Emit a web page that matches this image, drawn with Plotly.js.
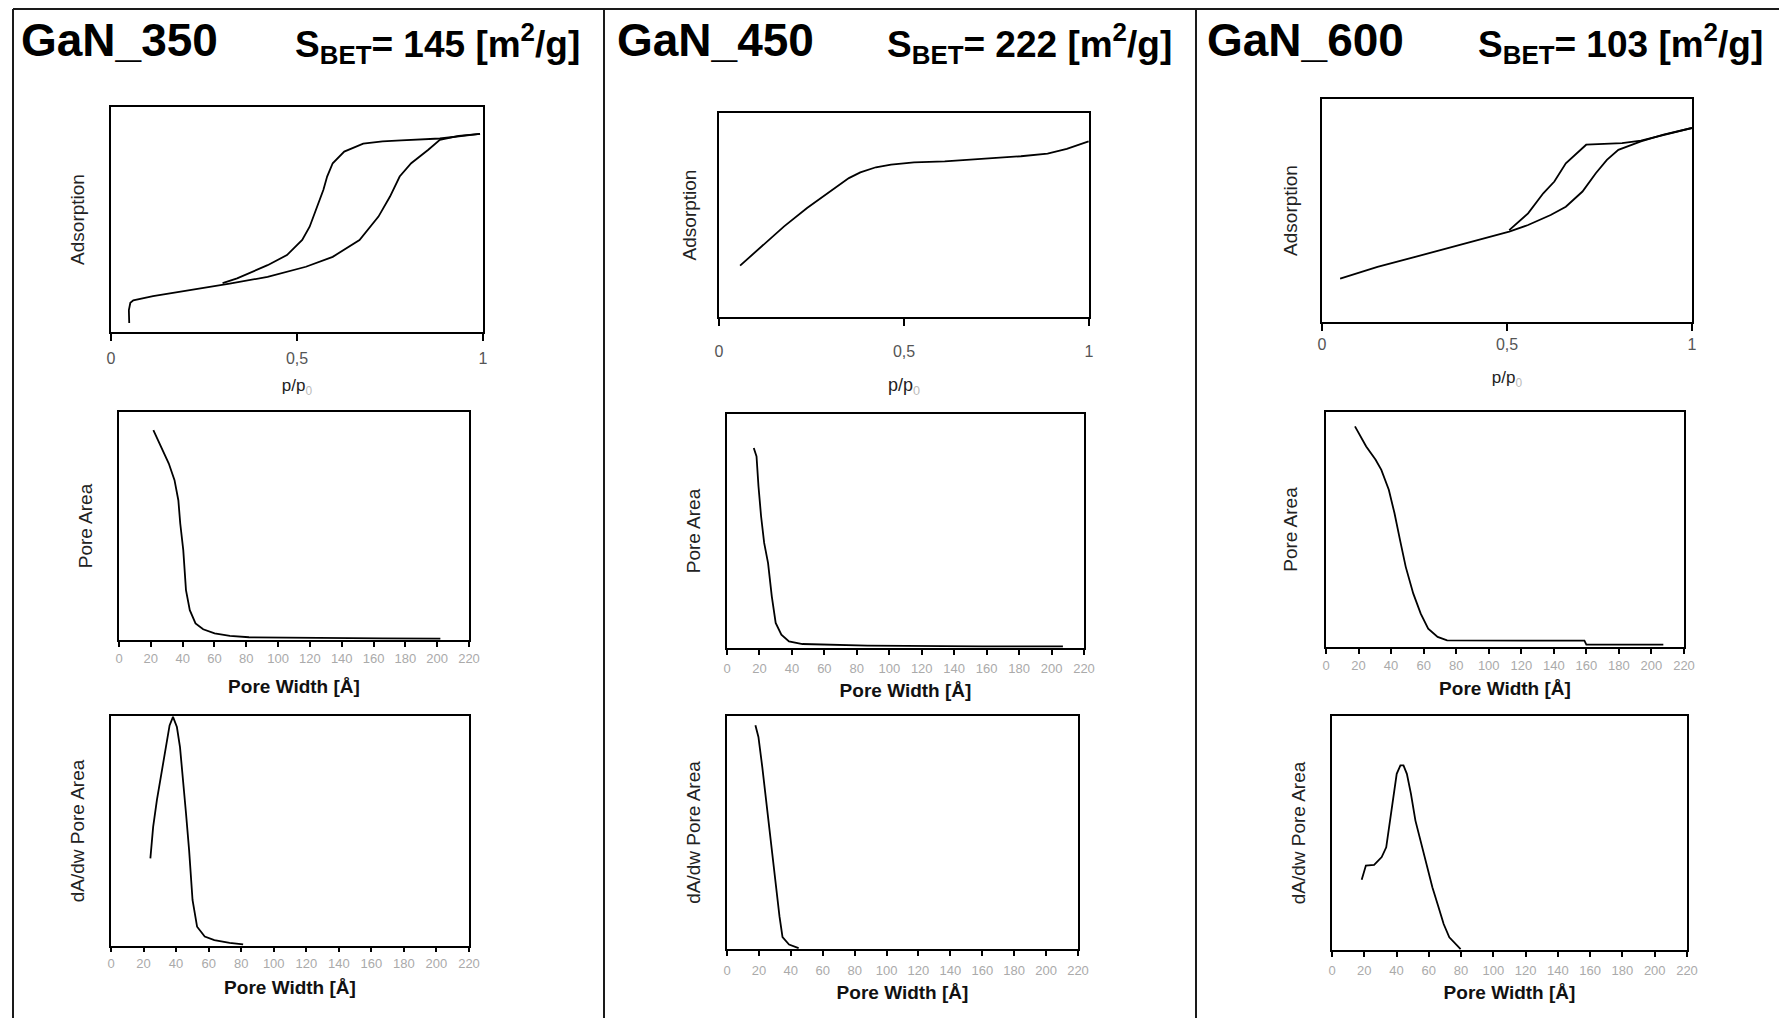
<!DOCTYPE html>
<html>
<head>
<meta charset="utf-8">
<script src="https://cdn.plot.ly/plotly-3.0.1.min.js"></script>
<style>
  html, body { margin: 0; padding: 0; background: #fff; }
  #chart { width: 1779px; height: 1018px; }
</style>
</head>
<body>
<div id="chart"></div>
<script>
// ---- Samples ----
const samples = ['GaN_350', 'GaN_450', 'GaN_600'];
const sBET = [145, 222, 103];

// ---- N2 isotherms: relative pressure p/p0 vs. adsorbed amount (arb. units) ----
const ads350P = [0.049, 0.048, 0.052, 0.060, 0.113, 0.216, 0.319, 0.421, 0.524, 0.596, 0.668, 0.719, 0.750, 0.776, 0.807, 0.853, 0.884, 0.935, 0.992];
const ads350V = [4.0, 9.7, 13.0, 14.1, 15.9, 18.6, 21.5, 24.5, 29.0, 33.4, 40.9, 51.3, 60.2, 69.1, 75.0, 81.0, 85.4, 87.2, 88.1];
const des350P = [0.992, 0.935, 0.884, 0.780, 0.730, 0.678, 0.627, 0.596, 0.581, 0.571, 0.555, 0.534, 0.514, 0.473, 0.421, 0.339, 0.300];
const des350V = [88.1, 87.0, 86.0, 85.2, 84.7, 83.7, 80.2, 75.0, 69.1, 63.2, 55.7, 46.8, 40.9, 34.2, 29.7, 23.8, 21.7];

const ads450P = [0.057, 0.114, 0.176, 0.238, 0.300, 0.351, 0.382, 0.424, 0.465, 0.527, 0.610, 0.713, 0.816, 0.888, 0.940, 0.999];
const ads450V = [25.2, 34.6, 44.4, 53.4, 61.6, 68.1, 70.9, 73.4, 74.7, 75.8, 76.3, 77.5, 78.8, 80.1, 82.4, 86.1];

const ads600P = [0.049, 0.150, 0.252, 0.354, 0.455, 0.506, 0.557, 0.618, 0.659, 0.704, 0.740, 0.770, 0.801, 0.862, 0.923, 1.000];
const ads600V = [19.5, 24.7, 29.2, 33.7, 37.9, 40.5, 43.5, 48.0, 51.7, 58.5, 66.7, 72.7, 77.2, 81.0, 84.0, 87.0];
const des600P = [1.000, 0.923, 0.862, 0.811, 0.714, 0.659, 0.628, 0.598, 0.557, 0.506];
const des600V = [87.0, 84.0, 81.3, 80.2, 79.5, 71.2, 63.0, 57.7, 48.7, 41.2];

// ---- Cumulative pore area vs. pore width [Å] ----
const pa350W = [21.6, 26.4, 31.3, 34.9, 37.3, 38.5, 40.4, 42.1, 44.5, 48.1, 52.9, 60.1, 69.7, 81.7, 117.8, 165.9, 202.0];
const pa350V = [92.0, 84.7, 77.4, 70.1, 61.3, 51.1, 39.4, 21.9, 13.1, 7.3, 4.7, 2.9, 1.8, 1.2, 0.9, 0.7, 0.6];
const pa450W = [16.5, 18.2, 19.4, 21.0, 22.9, 25.3, 27.6, 30.0, 33.5, 38.2, 46.5, 86.6, 157.5, 207.0];
const pa450V = [85.5, 81.9, 69.1, 56.3, 44.9, 36.3, 22.1, 10.7, 5.7, 2.8, 1.7, 1.0, 0.7, 0.7];
const pa600W = [17.8, 24.7, 30.5, 34.0, 38.6, 42.1, 45.5, 49.0, 53.6, 58.2, 62.8, 68.6, 74.4, 101.0, 158.8, 160.0, 207.3];
const pa600V = [93.9, 85.3, 79.7, 75.4, 66.9, 56.9, 45.5, 34.1, 22.8, 14.2, 7.8, 4.3, 2.8, 2.8, 2.7, 1.0, 1.0];

// ---- Pore area distribution dA/dw vs. pore width [Å] ----
const dd350W = [24.2, 25.9, 28.2, 30.6, 33.4, 36.0, 38.1, 40.5, 42.4, 44.2, 46.1, 48.0, 50.1, 52.9, 57.6, 63.5, 72.9, 81.2];
const dd350V = [38.1, 51.8, 63.4, 73.5, 86.5, 95.9, 99.6, 95.2, 86.5, 73.5, 57.6, 41.7, 20.0, 8.4, 4.1, 2.6, 1.4, 0.7];
const dd450W = [17.8, 19.7, 22.1, 24.0, 25.7, 27.6, 29.3, 31.2, 32.9, 34.8, 38.9, 44.9];
const dd450V = [96.0, 91.0, 78.2, 66.8, 55.3, 43.9, 34.0, 24.0, 14.0, 5.1, 1.9, 0.4];
const dd600W = [18.4, 21.0, 26.1, 30.8, 33.6, 35.4, 37.8, 40.1, 42.4, 44.3, 46.4, 48.9, 51.7, 55.2, 58.7, 62.2, 65.7, 69.2, 72.7, 76.2, 79.7];
const dd600V = [30.0, 36.1, 36.4, 39.7, 43.9, 52.5, 63.9, 75.3, 78.9, 78.9, 75.3, 66.8, 55.3, 45.4, 35.4, 26.8, 19.0, 11.1, 5.4, 2.9, 0.4];

// ---- Axis tick labels ----
const pressureTicks = [0, 0.5, 1];
const widthTicks = [0, 20, 40, 60, 80, 100, 120, 140, 160, 180, 200, 220];

// ---- Page geometry (pixels) ----
const W = 1779, H = 1018;
const FONT = 'Liberation Sans, Arial, Helvetica, sans-serif';

// plot boxes: [left, right, top, bottom]; order = isotherms, pore area, dA/dw (per sample column)
const boxes = [
  [111, 483, 107, 332], [719, 1089, 113, 317], [1322, 1692, 99, 322],
  [119, 469, 412, 640], [727, 1084, 414, 648], [1326, 1684, 412, 647],
  [111, 469, 716, 946], [727, 1078, 716, 949], [1332, 1687, 716, 950]
];
// per-plot label offsets: [tick label standoff, x-title standoff, y-title standoff, x-title size, tick length]
const offsets = [
  [4, 13, 19, 17, 7], [12, 19, 15, 18, 7], [0, 19, 17, 17, 7],
  [0, 15, 19, 19, 5], [2, 9, 19, 19, 5], [0, 10, 21, 19, 5],
  [0, 11, 19, 19, 4], [3, 9, 19, 19, 5], [2, 9, 19, 19, 5]
];

const lineStyle = { color: '#000', width: 1.8 };
function series(x, y, i) {
  const s = i === 0 ? '' : String(i + 1);
  return { x: x, y: y, type: 'scatter', mode: 'lines', line: lineStyle,
           xaxis: 'x' + s, yaxis: 'y' + s, showlegend: false, hoverinfo: 'skip' };
}

const traces = [
  series(ads350P, ads350V, 0), series(des350P, des350V, 0),
  series(ads450P, ads450V, 1),
  series(ads600P, ads600V, 2), series(des600P, des600V, 2),
  series(pa350W, pa350V, 3), series(pa450W, pa450V, 4), series(pa600W, pa600V, 5),
  series(dd350W, dd350V, 6), series(dd450W, dd450V, 7), series(dd600W, dd600V, 8)
];

const yTitles = ['Adsorption', 'Pore Area', 'dA/dw Pore Area'];
const layout = {
  width: W, height: H,
  margin: { l: 0, r: 0, t: 0, b: 0 },
  paper_bgcolor: '#fff', plot_bgcolor: '#fff',
  separators: ', ',
  font: { family: FONT, color: '#000', size: 14 },
  showlegend: false,
  annotations: [],
  shapes: []
};

boxes.forEach(function (b, i) {
  const s = i === 0 ? '' : String(i + 1);
  const row = Math.floor(i / 3);
  const o = offsets[i];
  const isIso = row === 0;
  layout['xaxis' + s] = {
    domain: [b[0] / W, b[1] / W],
    anchor: 'y' + s,
    range: isIso ? [0, 1] : [0, 220],
    tickvals: isIso ? pressureTicks : widthTicks,
    ticks: 'outside', ticklen: o[4], tickwidth: 2, tickcolor: '#000',
    ticklabelstandoff: o[0],
    tickfont: isIso ? { size: 16, color: '#555' } : { size: 13, color: '#aaa' },
    showline: true, linewidth: 2, linecolor: '#000', mirror: true,
    showgrid: false, zeroline: false, fixedrange: true,
    title: isIso
      ? { text: "p/p<sub><span style='color:#bbb'>0</span></sub>", standoff: o[1], font: { size: o[3], color: '#222' } }
      : { text: 'Pore Width [Å]', standoff: o[1], font: { size: o[3], color: '#111', weight: 'bold' } }
  };
  layout['yaxis' + s] = {
    domain: [1 - b[3] / H, 1 - b[2] / H],
    anchor: 'x' + s,
    range: [0, 100],
    showticklabels: false, ticks: '',
    showline: true, linewidth: 2, linecolor: '#000', mirror: true,
    showgrid: false, zeroline: false, fixedrange: true,
    title: { text: yTitles[row], standoff: o[2], font: { size: 19, color: '#222' } }
  };
});

// sample headers
const nameLeft = [19, 615, 1205];
const betRight = [582, 1174, 1765];
samples.forEach(function (name, k) {
  layout.annotations.push({
    xref: 'paper', yref: 'paper', x: nameLeft[k] / W, y: 1 - 40 / H,
    xanchor: 'left', yanchor: 'middle', showarrow: false,
    text: name, font: { size: 46, weight: 'bold', color: '#000' }
  });
  layout.annotations.push({
    xref: 'paper', yref: 'paper', x: betRight[k] / W, y: 1 - 43 / H,
    xanchor: 'right', yanchor: 'middle', showarrow: false,
    text: 'S<sub>BET</sub>= ' + sBET[k] + ' [m<sup>2</sup>/g]',
    font: { size: 37, weight: 'bold', color: '#000' }
  });
});

// panel frame
const frame = { color: '#1a1a1a', width: 2 };
const topY = 1 - 9 / H;
layout.shapes.push({ type: 'line', xref: 'paper', yref: 'paper', x0: 13 / W, x1: 1, y0: topY, y1: topY, line: frame });
[13, 604, 1196].forEach(function (px) {
  layout.shapes.push({ type: 'line', xref: 'paper', yref: 'paper', x0: px / W, x1: px / W, y0: 0, y1: topY, line: frame });
});

Plotly.newPlot('chart', traces, layout, { staticPlot: true, displayModeBar: false });
</script>
</body>
</html>
